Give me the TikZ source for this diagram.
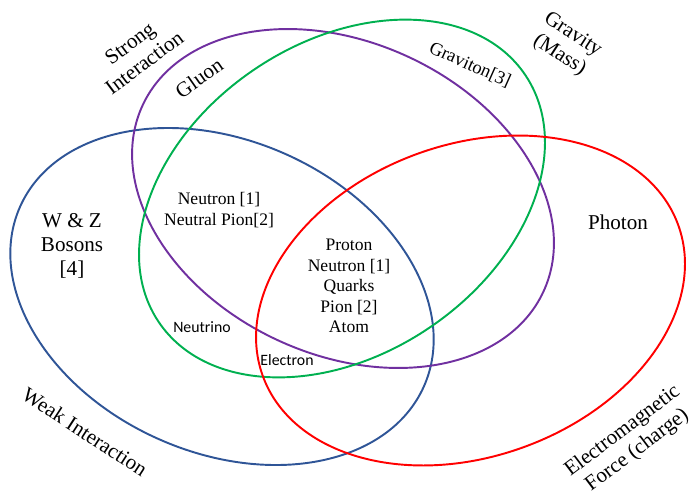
\documentclass[tikz,border=0pt]{standalone}
\usepackage{fontspec}
\setmainfont{Liberation Serif}
\newfontfamily\calibrifont{Carlito}
\usepackage{xcolor}
\usetikzlibrary{positioning}
\definecolor{weakblue}{HTML}{2F5597}
\definecolor{strongpurple}{HTML}{7030A0}
\definecolor{gravgreen}{HTML}{00B050}
\definecolor{emred}{HTML}{FF0000}

\begin{document}
\begin{tikzpicture}[
    forceset/.style={line width=1.1pt},
    biglabel/.style={font=\fontsize{12}{13.8}\selectfont, align=center, inner sep=1pt},
    smalllabel/.style={font=\fontsize{10}{11.7}\selectfont, align=center, inner sep=1pt},
    sanslabel/.style={font=\calibrifont\fontsize{9}{11}\selectfont, inner sep=1pt}
]
    \useasboundingbox (0,0) rectangle (13.8,9.8);

    % Centres of the sets
    \coordinate (weakc) at (4.44,3.87);
    \coordinate (strongc) at (6.86,5.83);
    \coordinate (gravc) at (6.84,5.83);
    \coordinate (emc) at (9.41,3.79);

    % Sets
    \draw[forceset, weakblue, rotate around={-24:(weakc)}] (weakc) ellipse (4.42 and 3.12);
    \draw[forceset, strongpurple, rotate around={-25:(strongc)}] (strongc) ellipse (4.42 and 3.12);
    \draw[forceset, gravgreen, rotate around={34:(gravc)}] (gravc) ellipse (4.42 and 3.12);
    \draw[forceset, emred, rotate around={20:(emc)}] (emc) ellipse (4.42 and 3.12);

    % Force names
    \node[biglabel, rotate=37] (strong) at (2.74,8.74) {Strong\\Interaction};
    \node[biglabel, rotate=-33] (gravity) at (11.32,8.90) {Gravity\\(Mass)};
    \node[biglabel, rotate=-33] (weak) at (1.70,1.16) {Weak Interaction};
    \node[biglabel, rotate=37] (em) at (12.60,0.98) {Electromagnetic\\Force (charge)};

    % Carriers
    \node[biglabel, rotate=35] (gluon) at (3.98,8.24) {Gluon};
    \node[smalllabel, font=\fontsize{10.5}{12}\selectfont, rotate=-24] (graviton) at (9.40,8.50) {Graviton[3]};
    \node[biglabel] (photon) at (12.36,5.36) {Photon};
    \node[biglabel] (wz) at (1.44,4.88) {W \& Z\\Bosons\\{[4]}};

    % Particles
    \node[smalllabel] (neutral) at (4.38,5.60) {Neutron [1]\\Neutral Pion[2]};
    \node[smalllabel] (proton) at (6.98,4.08) {Proton\\Neutron [1]\\Quarks\\Pion [2]\\Atom};
    \node[sanslabel] (neutrino) at (4.04,3.26) {Neutrino};
    \node[sanslabel] (electron) at (5.74,2.60) {Electron};

\end{tikzpicture}
\end{document}
